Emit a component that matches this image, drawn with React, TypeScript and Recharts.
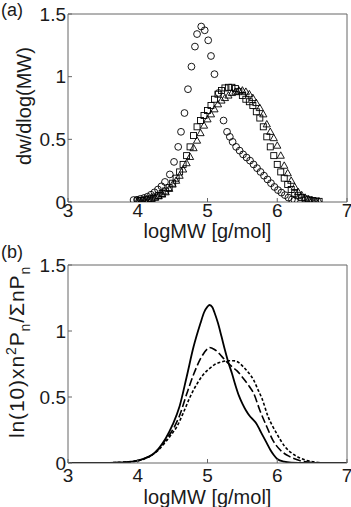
import React from "react";
import {
  ScatterChart,
  Scatter,
  LineChart,
  Line,
  XAxis,
  YAxis,
} from "recharts";

// ---------- Panel (a): experimental data ----------
const circleLogMW = [3.94, 3.99, 4.04, 4.09, 4.14, 4.19, 4.24, 4.29, 4.34, 4.39, 4.46, 4.52, 4.58, 4.62, 4.67, 4.72, 4.77, 4.82, 4.85, 4.91, 4.96, 5.01, 5.05, 5.10, 5.16, 5.23, 5.28, 5.32, 5.36, 5.41, 5.46, 5.51, 5.56, 5.61, 5.66, 5.71, 5.76, 5.81, 5.86, 5.91, 5.96, 6.01, 6.06, 6.11, 6.16, 6.21, 6.25];
const circleDw = [0.016, 0.018, 0.025, 0.032, 0.042, 0.058, 0.077, 0.1, 0.125, 0.16, 0.22, 0.32, 0.44, 0.56, 0.71, 0.9, 1.08, 1.24, 1.34, 1.4, 1.37, 1.29, 1.165, 1.02, 0.87, 0.65, 0.56, 0.52, 0.48, 0.44, 0.41, 0.38, 0.355, 0.33, 0.3, 0.27, 0.24, 0.21, 0.18, 0.15, 0.12, 0.095, 0.075, 0.055, 0.035, 0.02, 0.012];

const squareLogMW = [4.0, 4.05, 4.1, 4.15, 4.2, 4.25, 4.3, 4.35, 4.4, 4.45, 4.5, 4.55, 4.6, 4.65, 4.7, 4.75, 4.8, 4.85, 4.9, 4.95, 5.0, 5.05, 5.1, 5.15, 5.2, 5.25, 5.3, 5.35, 5.4, 5.45, 5.5, 5.55, 5.6, 5.65, 5.7, 5.75, 5.8, 5.85, 5.9, 5.95, 6.0, 6.05, 6.1, 6.15, 6.2, 6.25, 6.3, 6.35, 6.4, 6.45, 6.5, 6.55, 6.6];
const squareDw = [0.01, 0.012, 0.016, 0.022, 0.03, 0.04, 0.052, 0.068, 0.088, 0.115, 0.15, 0.19, 0.24, 0.3, 0.37, 0.44, 0.53, 0.6, 0.65, 0.69, 0.73, 0.77, 0.82, 0.86, 0.89, 0.91, 0.915, 0.915, 0.905, 0.88, 0.85, 0.82, 0.8, 0.77, 0.72, 0.67, 0.6, 0.52, 0.44, 0.37, 0.3, 0.24, 0.19, 0.14, 0.1, 0.07, 0.05, 0.035, 0.025, 0.018, 0.012, 0.008, 0.005];

const triangleLogMW = [4.0, 4.05, 4.1, 4.15, 4.2, 4.25, 4.3, 4.35, 4.4, 4.45, 4.5, 4.55, 4.6, 4.65, 4.7, 4.75, 4.8, 4.85, 4.9, 4.95, 5.0, 5.05, 5.1, 5.15, 5.2, 5.25, 5.3, 5.35, 5.4, 5.45, 5.5, 5.55, 5.6, 5.65, 5.7, 5.75, 5.8, 5.85, 5.9, 5.95, 6.0, 6.05, 6.1, 6.15, 6.2, 6.25, 6.3, 6.35, 6.4, 6.45, 6.5, 6.55, 6.6];
const triangleDw = [0.008, 0.01, 0.014, 0.019, 0.026, 0.035, 0.046, 0.06, 0.078, 0.105, 0.14, 0.17, 0.21, 0.26, 0.31, 0.36, 0.43, 0.49, 0.55, 0.61, 0.66, 0.7, 0.74, 0.78, 0.81, 0.83, 0.85, 0.87, 0.88, 0.89, 0.89, 0.88, 0.86, 0.83, 0.79, 0.75, 0.7, 0.62, 0.56, 0.51, 0.45, 0.37, 0.29, 0.23, 0.17, 0.12, 0.08, 0.055, 0.035, 0.022, 0.014, 0.009, 0.005];

// ---------- Panel (b): model curves ----------
const solidLogMW = [3.0, 3.5, 3.7, 3.9, 4.0, 4.1, 4.2, 4.3, 4.4, 4.5, 4.6, 4.7, 4.8, 4.9, 4.95, 5.0, 5.03, 5.07, 5.1, 5.15, 5.2, 5.25, 5.3, 5.35, 5.4, 5.45, 5.5, 5.55, 5.6, 5.65, 5.7, 5.75, 5.8, 5.85, 5.9, 5.95, 6.0, 6.1, 6.2, 6.4, 7.0];
const solidP = [0, 0, 0.003, 0.01, 0.018, 0.035, 0.06, 0.11, 0.185, 0.29, 0.43, 0.65, 0.88, 1.06, 1.14, 1.185, 1.197, 1.18, 1.14, 1.06, 0.96, 0.856, 0.76, 0.68, 0.59, 0.51, 0.45, 0.4, 0.36, 0.33, 0.3, 0.25, 0.2, 0.15, 0.1, 0.06, 0.03, 0.01, 0.003, 0, 0];

const dashedLogMW = [3.0, 3.7, 3.9, 4.0, 4.1, 4.2, 4.3, 4.4, 4.5, 4.6, 4.7, 4.8, 4.9, 5.0, 5.03, 5.1, 5.15, 5.2, 5.27, 5.35, 5.42, 5.5, 5.6, 5.66, 5.75, 5.85, 5.94, 6.04, 6.18, 6.33, 6.47, 6.6, 7.0];
const dashedP = [0, 0.003, 0.01, 0.018, 0.035, 0.06, 0.105, 0.175, 0.25, 0.36, 0.52, 0.67, 0.79, 0.865, 0.875, 0.86, 0.84, 0.81, 0.77, 0.73, 0.7, 0.65, 0.58, 0.53, 0.4, 0.275, 0.17, 0.1, 0.048, 0.017, 0.005, 0, 0];

const dottedLogMW = [3.0, 3.7, 3.9, 4.0, 4.1, 4.2, 4.3, 4.4, 4.46, 4.56, 4.65, 4.75, 4.85, 4.94, 5.04, 5.1, 5.2, 5.3, 5.37, 5.45, 5.51, 5.58, 5.66, 5.72, 5.78, 5.87, 5.99, 6.11, 6.25, 6.4, 6.55, 6.7, 7.0];
const dottedP = [0, 0.003, 0.01, 0.017, 0.033, 0.058, 0.1, 0.16, 0.2, 0.275, 0.376, 0.5, 0.6, 0.67, 0.72, 0.745, 0.765, 0.775, 0.775, 0.76, 0.73, 0.69, 0.63, 0.56, 0.49, 0.35, 0.225, 0.124, 0.06, 0.023, 0.007, 0, 0];

const xTicks = [3, 4, 5, 6, 7];
const yTicks = [0, 0.5, 1, 1.5];

const zip = (xs: number[], ys: number[]) => xs.map((x, i) => ({ x, y: ys[i] }));

const circles = zip(circleLogMW, circleDw);
const squares = zip(squareLogMW, squareDw);
const triangles = zip(triangleLogMW, triangleDw);
const solid = zip(solidLogMW, solidP);
const dashed = zip(dashedLogMW, dashedP);
const dotted = zip(dottedLogMW, dottedP);

const FONT = "'Liberation Sans', Arial, Helvetica, sans-serif";
const AXIS = "#666";
const TXT = "#1a1a1a";

const CircleShape = (p: any) => (
  <circle cx={p.cx} cy={p.cy} r={3.4} fill="none" stroke="#000" strokeWidth={0.9} />
);
const SquareShape = (p: any) => (
  <rect x={p.cx - 3} y={p.cy - 3} width={6} height={6} fill="none" stroke="#000" strokeWidth={0.9} />
);
const TriangleShape = (p: any) => (
  <path
    d={`M${p.cx},${p.cy - 3.8} L${p.cx + 3.6},${p.cy + 2.6} L${p.cx - 3.6},${p.cy + 2.6} Z`}
    fill="none"
    stroke="#000"
    strokeWidth={0.9}
  />
);

const tickStyle = { fontSize: 19, fill: TXT, fontFamily: FONT };

function frameAxes(xMargin: number) {
  return [
    <XAxis
      key="xb"
      dataKey="x"
      type="number"
      domain={[3, 7]}
      ticks={xTicks}
      allowDataOverflow
      tickSize={-4}
      tickMargin={xMargin}
      height={50}
      axisLine={{ stroke: AXIS }}
      tickLine={{ stroke: AXIS }}
      tick={tickStyle}
      interval={0}
    />,
    <XAxis
      key="xt"
      xAxisId="top"
      dataKey="x"
      type="number"
      orientation="top"
      mirror
      domain={[3, 7]}
      ticks={xTicks}
      allowDataOverflow
      tickSize={4}
      axisLine={{ stroke: AXIS }}
      tickLine={{ stroke: AXIS }}
      tick={false}
      interval={0}
    />,
    <YAxis
      key="yl"
      dataKey="y"
      type="number"
      domain={[0, 1.5]}
      ticks={yTicks}
      allowDataOverflow
      width={68}
      tickSize={-4}
      tickMargin={6}
      axisLine={{ stroke: AXIS }}
      tickLine={{ stroke: AXIS }}
      tick={tickStyle}
      interval={0}
    />,
    <YAxis
      key="yr"
      yAxisId="right"
      dataKey="y"
      type="number"
      orientation="right"
      mirror
      domain={[0, 1.5]}
      ticks={yTicks}
      allowDataOverflow
      tickSize={4}
      axisLine={{ stroke: AXIS }}
      tickLine={{ stroke: AXIS }}
      tick={false}
      interval={0}
    />,
  ];
}

export default function App() {
  return (
    <div style={{ position: "absolute", left: 0, top: 0, width: 351, height: 507, background: "#fff", overflow: "hidden" }}>
      <div style={{ position: "absolute", left: 0, top: 0 }}>
        <ScatterChart width={351} height={252} margin={{ top: 14, right: 4, bottom: 0, left: 0 }}>
          {frameAxes(6)}
          <Scatter data={circles} shape={CircleShape} isAnimationActive={false} />
          <Scatter data={squares} shape={SquareShape} isAnimationActive={false} />
          <Scatter data={triangles} shape={TriangleShape} isAnimationActive={false} />
        </ScatterChart>
      </div>
      <div style={{ position: "absolute", left: 0, top: 245 }}>
        <LineChart width={351} height={268} margin={{ top: 20, right: 4, bottom: 0, left: 0 }}>
          {frameAxes(10)}
          <Line data={solid} dataKey="y" type="monotone" stroke="#000" strokeWidth={1.8} dot={false} isAnimationActive={false} />
          <Line data={dashed} dataKey="y" type="monotone" stroke="#000" strokeWidth={1.6} strokeDasharray="8 3" dot={false} isAnimationActive={false} />
          <Line data={dotted} dataKey="y" type="monotone" stroke="#000" strokeWidth={1.6} strokeDasharray="3 2" dot={false} isAnimationActive={false} />
        </LineChart>
      </div>
      <svg width={351} height={507} style={{ position: "absolute", left: 0, top: 0, pointerEvents: "none" }} fontFamily={FONT} fill={TXT}>
        <text x={1} y={16} fontSize={18}>(a)</text>
        <text x={1} y={258} fontSize={18}>(b)</text>
        <text x={207.5} y={237.5} fontSize={20} textAnchor="middle">logMW [g/mol]</text>
        <text x={207.5} y={504} fontSize={20} textAnchor="middle">logMW [g/mol]</text>
        <text x={31} y={106} fontSize={20} textAnchor="middle" transform="rotate(-90 31 106)">dw/dlog(MW)</text>
        <text x={24} y={352} fontSize={21} letterSpacing={0.9} textAnchor="middle" transform="rotate(-90 24 352)">
          ln(10)xn<tspan fontSize={14} dy={-8}>2</tspan>
          <tspan dy={8}>P</tspan>
          <tspan fontSize={14} dy={6}>n</tspan>
          <tspan dy={-6}>/ΣnP</tspan>
          <tspan fontSize={14} dy={6}>n</tspan>
        </text>
      </svg>
    </div>
  );
}
